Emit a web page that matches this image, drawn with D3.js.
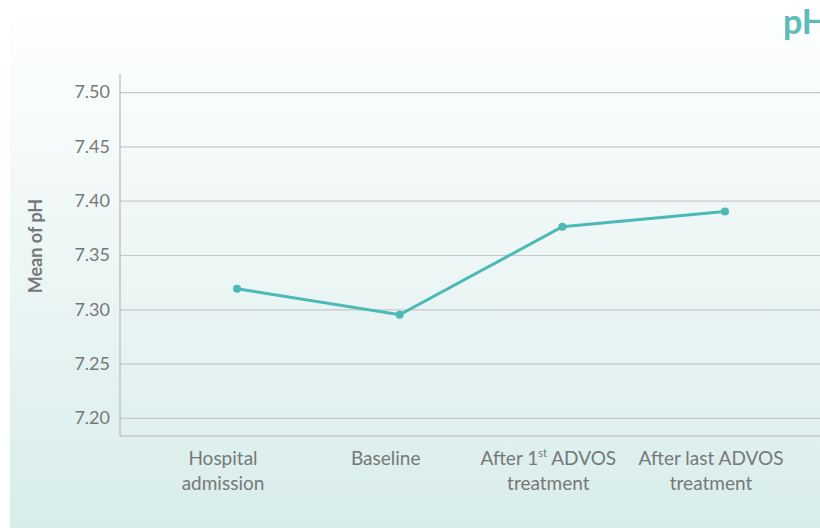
<!DOCTYPE html>
<html>
<head>
<meta charset="utf-8">
<script src="https://cdn.jsdelivr.net/npm/d3@7"></script>
<style>
  html, body { margin: 0; padding: 0; background: #ffffff; }
  svg { display: block; }
</style>
</head>
<body>
<svg id="chart" width="820" height="528"></svg>
<script>
// Mean pH over the course of ADVOS treatment
const categories = [
  ["Hospital", "admission"],
  ["Baseline"],
  ["After 1|st| ADVOS", "treatment"],
  ["After last ADVOS", "treatment"]
];
const phValues = [7.319, 7.295, 7.376, 7.390];
const yTicks = [7.20, 7.25, 7.30, 7.35, 7.40, 7.45, 7.50];

const W = 820, H = 528;
const svg = d3.select("#chart");
const font = "Lato, 'Open Sans', sans-serif";
const textGray = "#767878";

// card background with a soft vertical teal gradient
const defs = svg.append("defs");
const grad = defs.append("linearGradient")
  .attr("id", "bg").attr("x1", 0).attr("y1", 0).attr("x2", 0).attr("y2", 1);
grad.append("stop").attr("offset", "0%").attr("stop-color", "#ffffff");
grad.append("stop").attr("offset", "45%").attr("stop-color", "#eef7f6");
grad.append("stop").attr("offset", "100%").attr("stop-color", "#d8edeb");
svg.append("rect").attr("x", 10).attr("y", 0).attr("width", W - 10).attr("height", H)
  .attr("fill", "url(#bg)");

const plot = { left: 120, right: W, top: 74, bottom: 436 };

const y = d3.scaleLinear()
  .domain([7.1834, 7.5166])
  .range([plot.bottom, plot.top]);

const x = d3.scalePoint()
  .domain(d3.range(categories.length))
  .range([237, 725]);

// category labels sit slightly left of their markers
const labelShift = -14;

// horizontal gridlines with tick labels
const yAxis = d3.axisLeft(y)
  .tickValues(yTicks)
  .tickFormat(d3.format(".2f"))
  .tickSize(-(plot.right - plot.left))
  .tickPadding(10);

const gy = svg.append("g")
  .attr("transform", `translate(${plot.left},0)`)
  .call(yAxis);
gy.select(".domain").remove();
gy.selectAll(".tick line").attr("stroke", "#c4c8c8").attr("stroke-width", 1.2);
gy.selectAll(".tick text")
  .attr("fill", textGray)
  .style("font-family", font)
  .style("font-size", "18px");

// axis frame
svg.append("line")
  .attr("x1", plot.left).attr("x2", plot.left)
  .attr("y1", plot.top).attr("y2", plot.bottom)
  .attr("stroke", "#b5b9b9").attr("stroke-width", 1.2);
svg.append("line")
  .attr("x1", plot.left).attr("x2", plot.right)
  .attr("y1", plot.bottom).attr("y2", plot.bottom)
  .attr("stroke", "#b5b9b9").attr("stroke-width", 1.2);

// category labels (two lines, with optional superscript)
const xl = svg.append("g");
categories.forEach((lines, i) => {
  lines.forEach((ln, j) => {
    const t = xl.append("text")
      .attr("x", x(i) + labelShift)
      .attr("y", 465 + j * 25)
      .attr("text-anchor", "middle")
      .attr("fill", textGray)
      .style("font-family", font)
      .style("font-size", "19px");
    const parts = ln.split("|");
    parts.forEach((p, k) => {
      const sp = t.append("tspan").text(p);
      if (k === 1) sp.attr("font-size", "11px").attr("dy", "-8");
      if (k === 2) sp.attr("dy", "8");
    });
  });
});

// y axis title
svg.append("text")
  .attr("transform", `translate(42,246) rotate(-90)`)
  .attr("text-anchor", "middle")
  .attr("fill", textGray)
  .style("font-family", font)
  .style("font-size", "18px")
  .style("font-weight", "bold")
  .text("Mean of pH");

// chart title, top right
svg.append("text")
  .attr("x", 783).attr("y", 34)
  .attr("fill", "#5bbcb9")
  .style("font-family", font)
  .style("font-size", "34px")
  .style("font-weight", "bold")
  .text("pH");

// line + markers
const teal = "#4bb9b6";
const line = d3.line()
  .x((d, i) => x(i))
  .y(d => y(d));
svg.append("path")
  .datum(phValues)
  .attr("d", line)
  .attr("fill", "none")
  .attr("stroke", teal)
  .attr("stroke-width", 3);
svg.selectAll("circle.pt")
  .data(phValues)
  .join("circle")
  .attr("class", "pt")
  .attr("cx", (d, i) => x(i))
  .attr("cy", d => y(d))
  .attr("r", 4)
  .attr("fill", teal);
</script>
</body>
</html>
